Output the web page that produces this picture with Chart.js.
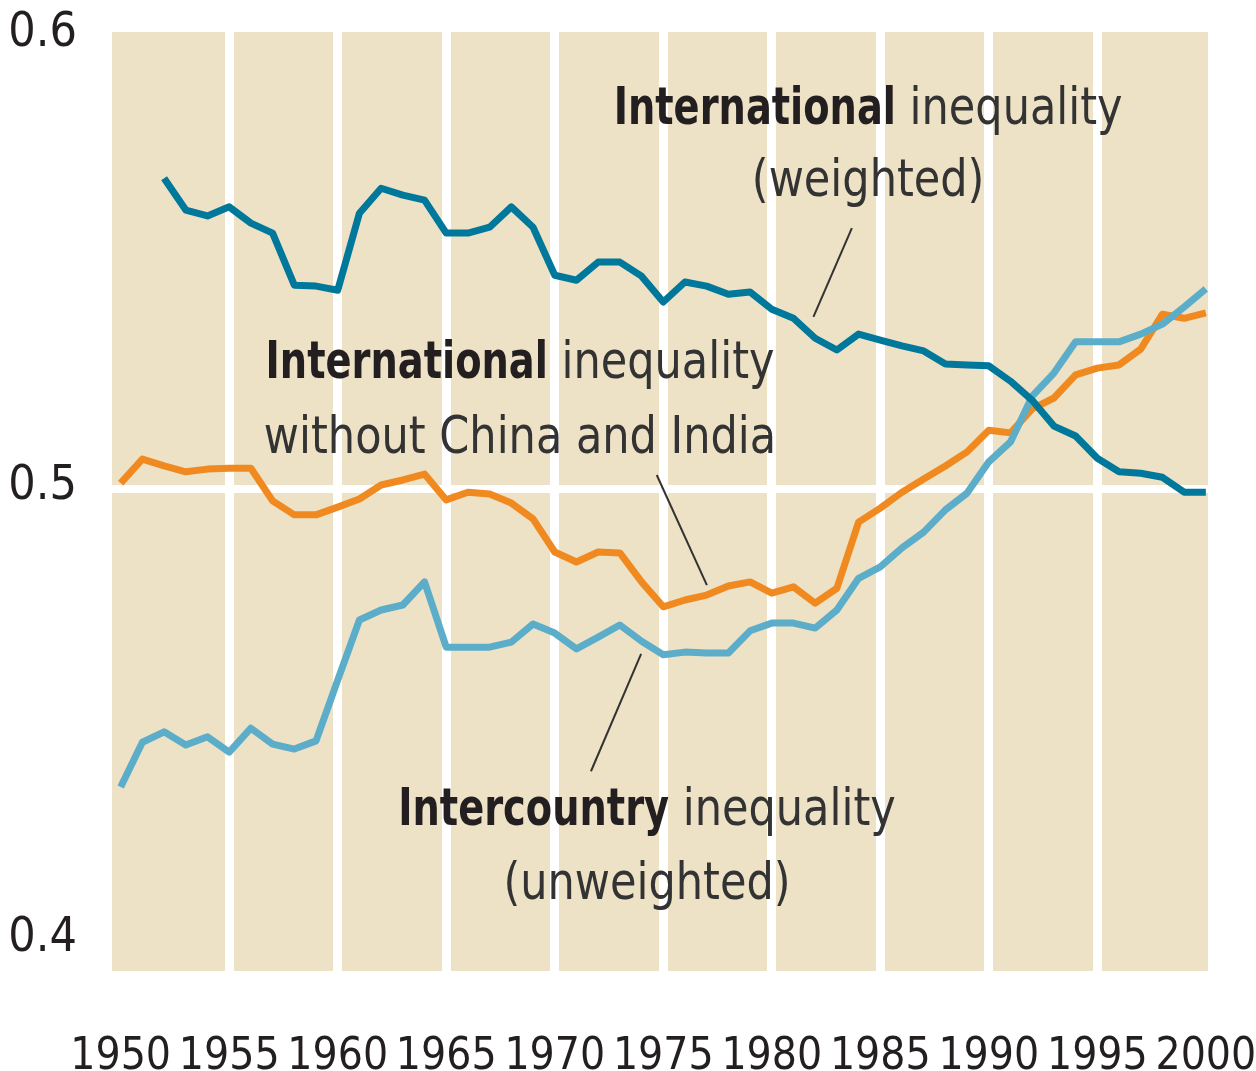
<!DOCTYPE html>
<html>
<head>
<meta charset="utf-8">
<script src="https://cdn.jsdelivr.net/npm/chart.js@4.4.1/dist/chart.umd.min.js"></script>
<style>
  html, body { margin: 0; padding: 0; background: #fff; }
  canvas { display: block; }
</style>
</head>
<body>
<canvas id="inequalityChart" width="1256" height="1071"></canvas>
<script>
// Data (Gini-type index, 1950-2000)
const years = [1950, 1951, 1952, 1953, 1954, 1955, 1956, 1957, 1958, 1959,
               1960, 1961, 1962, 1963, 1964, 1965, 1966, 1967, 1968, 1969,
               1970, 1971, 1972, 1973, 1974, 1975, 1976, 1977, 1978, 1979,
               1980, 1981, 1982, 1983, 1984, 1985, 1986, 1987, 1988, 1989,
               1990, 1991, 1992, 1993, 1994, 1995, 1996, 1997, 1998, 1999, 2000];

// International inequality (weighted)
const weighted = [null, null, 0.5686, 0.5616, 0.5603, 0.5623, 0.5587, 0.5565, 0.5450, 0.5448,
                  0.5439, 0.5609, 0.5664, 0.5649, 0.5638, 0.5565, 0.5565, 0.5578, 0.5623, 0.5578,
                  0.5472, 0.5461, 0.5501, 0.5501, 0.5470, 0.5413, 0.5457, 0.5448, 0.5430, 0.5435,
                  0.5397, 0.5377, 0.5333, 0.5307, 0.5342, 0.5329, 0.5316, 0.5305, 0.5276, 0.5274,
                  0.5272, 0.5238, 0.5196, 0.5139, 0.5117, 0.5068, 0.5038, 0.5035, 0.5026, 0.4993, 0.4993];

// International inequality without China and India
const withoutChinaIndia = [0.5013, 0.5066, 0.5051, 0.5038, 0.5044, 0.5046, 0.5046, 0.4974, 0.4943, 0.4943,
                           0.4960, 0.4978, 0.5009, 0.5020, 0.5033, 0.4976, 0.4993, 0.4989, 0.4969, 0.4934,
                           0.4861, 0.4839, 0.4861, 0.4859, 0.4795, 0.4740, 0.4755, 0.4766, 0.4786, 0.4795,
                           0.4770, 0.4784, 0.4748, 0.4781, 0.4927, 0.4958, 0.4993, 0.5022, 0.5051, 0.5082,
                           0.5130, 0.5124, 0.5177, 0.5201, 0.5252, 0.5267, 0.5274, 0.5309, 0.5386, 0.5377, 0.5389];

// Intercountry inequality (unweighted)
const unweighted = [0.4342, 0.4441, 0.4464, 0.4435, 0.4453, 0.4419, 0.4472, 0.4437, 0.4426, 0.4444,
                    0.4578, 0.4711, 0.4733, 0.4744, 0.4795, 0.4651, 0.4651, 0.4651, 0.4662, 0.4702,
                    0.4682, 0.4647, 0.4673, 0.4700, 0.4664, 0.4634, 0.4640, 0.4638, 0.4638, 0.4687,
                    0.4704, 0.4704, 0.4693, 0.4733, 0.4803, 0.4828, 0.4870, 0.4905, 0.4954, 0.4991,
                    0.5060, 0.5104, 0.5205, 0.5256, 0.5325, 0.5325, 0.5325, 0.5342, 0.5364, 0.5402, 0.5442];

const xTicks = [1950, 1955, 1960, 1965, 1970, 1975, 1980, 1985, 1990, 1995, 2000];
const yTicks = [0.4, 0.5, 0.6];

// Labels in data units: [bold part, regular part, year, value]
const noteLines = [
    ['International', ' inequality', 1984.44, 0.5835],
    ['', '(weighted)', 1984.44, 0.5676],
    ['International', ' inequality', 1968.4, 0.5275],
    ['', 'without China and India', 1968.4, 0.5110],
    ['Intercountry', ' inequality', 1974.25, 0.4289],
    ['', '(unweighted)', 1974.25, 0.4124]
];
// Leader lines: [year1, value1, year2, value2]
const leaders = [
    [1983.69, 0.5576, 1981.92, 0.5380],
    [1974.70, 0.5031, 1977.01, 0.4788],
    [1973.98, 0.4636, 1971.67, 0.4377]
];

const FONT = "'DejaVu Sans Condensed', 'Liberation Sans Narrow', sans-serif";

const plotBackground = {
    id: 'plotBackground',
    beforeDraw(chart) {
        const { ctx, chartArea: a } = chart;
        ctx.save();
        ctx.fillStyle = '#ede2c5';
        ctx.fillRect(a.left, a.top, a.right - a.left, a.bottom - a.top);
        ctx.restore();
    }
};

const notes = {
    id: 'notes',
    afterDatasetsDraw(chart) {
        const { ctx, scales: { x, y } } = chart;
        ctx.save();
        ctx.strokeStyle = '#333';
        ctx.lineWidth = 2;
        leaders.forEach(l => {
            ctx.beginPath();
            ctx.moveTo(x.getPixelForValue(l[0]), y.getPixelForValue(l[1]));
            ctx.lineTo(x.getPixelForValue(l[2]), y.getPixelForValue(l[3]));
            ctx.stroke();
        });
        ctx.textBaseline = 'middle';
        ctx.textAlign = 'left';
        const boldFont = 'bold 52px ' + FONT, boldSx = 0.82;
        const regFont = '52px ' + FONT, regSx = 0.92;
        noteLines.forEach(n => {
            ctx.font = boldFont;
            const w1 = n[0] ? ctx.measureText(n[0]).width * boldSx : 0;
            ctx.font = regFont;
            const w2 = ctx.measureText(n[1]).width * regSx;
            let px = x.getPixelForValue(n[2]) - (w1 + w2) / 2;
            const py = y.getPixelForValue(n[3]);
            if (n[0]) {
                ctx.save();
                ctx.translate(px, py);
                ctx.scale(boldSx, 1);
                ctx.font = boldFont;
                ctx.fillStyle = '#231f20';
                ctx.fillText(n[0], 0, 0);
                ctx.restore();
                px += w1;
            }
            ctx.save();
            ctx.translate(px, py);
            ctx.scale(regSx, 1);
            ctx.font = regFont;
            ctx.fillStyle = '#333';
            ctx.fillText(n[1], 0, 0);
            ctx.restore();
        });
        ctx.restore();
    }
};

function series(values) {
    return years.map((yr, i) => ({ x: yr, y: values[i] }));
}

new Chart(document.getElementById('inequalityChart'), {
    type: 'line',
    data: {
        datasets: [
            { label: 'International inequality (weighted)', data: series(weighted), borderColor: '#00789b' },
            { label: 'Intercountry inequality (unweighted)', data: series(unweighted), borderColor: '#5badc9' },
            { label: 'International inequality without China and India', data: series(withoutChinaIndia), borderColor: '#f08a20' }
        ]
    },
    options: {
        responsive: false,
        animation: false,
        layout: { padding: { top: 32, right: 48, left: 0, bottom: 0 } },
        plugins: {
            legend: { display: false },
            tooltip: { enabled: false }
        },
        elements: {
            point: { radius: 0 },
            line: { borderWidth: 7, tension: 0, borderJoinStyle: 'round' }
        },
        scales: {
            x: {
                type: 'linear',
                min: 1949.6,
                max: 2000.1,
                afterBuildTicks: s => { s.ticks = xTicks.map(v => ({ value: v })); },
                afterFit: s => {
                    s.height = 100;
                    s.paddingLeft = 0;
                    s.paddingRight = 0;
                },
                grid: {
                    color: c => (c.tick && c.tick.value > 1950 && c.tick.value < 2000) ? '#ffffff' : 'rgba(0,0,0,0)',
                    lineWidth: 9,
                    drawTicks: false
                },
                border: { display: false },
                ticks: {
                    padding: 65,
                    color: '#231f20',
                    maxRotation: 0,
                    autoSkip: false,
                    font: { family: FONT, size: 44, lineHeight: 1 },
                    callback: v => String(v)
                }
            },
            y: {
                min: 0.3936,
                max: 0.6009,
                afterBuildTicks: s => { s.ticks = yTicks.map(v => ({ value: v })); },
                afterFit: s => {
                    s.width = 112;
                    s.paddingTop = 0;
                    s.paddingBottom = 0;
                },
                grid: {
                    color: c => (c.tick && Math.abs(c.tick.value - 0.5) < 1e-6) ? '#ffffff' : 'rgba(0,0,0,0)',
                    lineWidth: 8,
                    drawTicks: false
                },
                border: { display: false },
                ticks: {
                    padding: 35,
                    labelOffset: -3,
                    color: '#231f20',
                    font: { family: FONT, size: 48, lineHeight: 1 },
                    callback: v => v.toFixed(1)
                }
            }
        }
    },
    plugins: [plotBackground, notes]
});
</script>
</body>
</html>
